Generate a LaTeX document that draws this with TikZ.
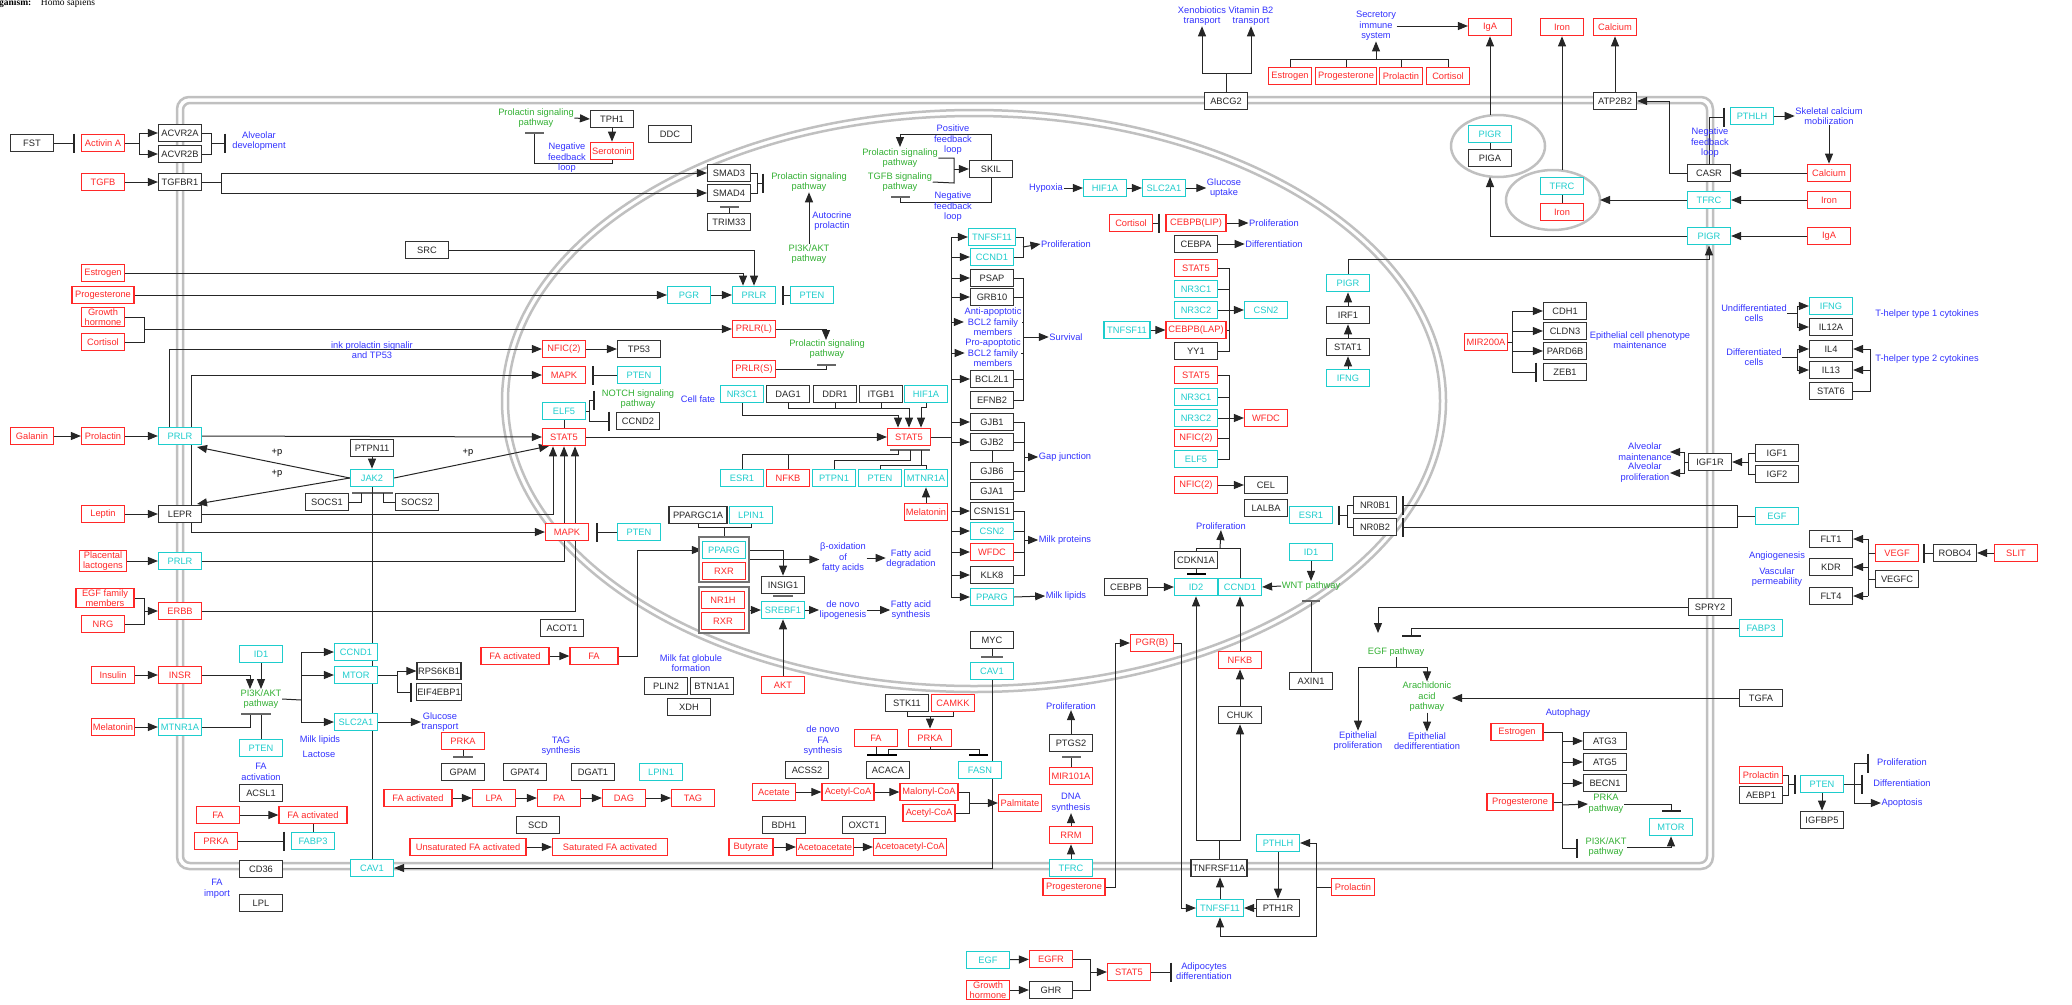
\documentclass[tikz,border=0pt]{standalone}
\usepackage{fontspec}
\setmainfont{Liberation Sans}
\newfontfamily\orgfont{Liberation Serif}
\usetikzlibrary{arrows.meta}
\definecolor{redc}{RGB}{255,40,40}
\definecolor{cyanc}{RGB}{30,205,205}
\definecolor{bluec}{RGB}{50,50,255}
\definecolor{greenc}{RGB}{50,175,50}
\definecolor{memc}{RGB}{192,192,192}
\newcommand\dfont{\fontsize{9.3}{10.5}\selectfont}
\pgfdeclarelayer{memlayer}
\pgfdeclarelayer{linelayer}
\pgfsetlayers{memlayer,linelayer,main}
\begin{document}
\begin{tikzpicture}[x=1pt,y=-1pt,
 every node/.style={font=\dfont},
 box/.style={draw, fill=white, line width=1.2pt, minimum width=43pt, minimum height=17.5pt, inner sep=1pt, align=center},
 gb/.style={box, draw=black!80, text=black!85},
 gc/.style={box, draw=cyanc, text=cyanc},
 gr/.style={box, draw=redc, text=redc},
 lb/.style={text=bluec, align=center, inner sep=0.5pt},
 lg/.style={text=greenc, align=center, inner sep=0.5pt},
 cplx/.style={draw=black!55, line width=1.5pt, fill=white, inner sep=0},
 ln/.style={draw=black!85, line width=1pt},
 ar/.style={draw=black!85, line width=1pt, -{Triangle[length=10pt,width=8pt]}},
 inh/.style={draw=black!85, line width=1pt, -{Bar[width=19pt,line width=2pt]}},
 gbar/.style={draw=black!60, line width=2.8pt},
 bbar/.style={draw=black, line width=2pt},
 memb/.style={draw=memc, line width=2.5pt}]
\useasboundingbox (0,0) rectangle (2072,1004);
\begin{pgfonlayer}{memlayer}
\draw[memb, rounded corners=12pt] (177,97) rectangle (1713,869);
\draw[memb, rounded corners=7pt] (183,103) rectangle (1707,863);
\draw[memb] (974,401) ellipse [x radius=472pt, y radius=291pt];
\draw[memb] (974,401) ellipse [x radius=466pt, y radius=285pt];
\draw[memb] (1498,146) ellipse [x radius=47pt, y radius=31pt];
\draw[memb] (1553,200) ellipse [x radius=47pt, y radius=30pt];
\end{pgfonlayer}
\node[anchor=base west, inner sep=0, font=\orgfont\fontsize{9.5}{11}\selectfont] (org) at (-1,5) {\textbf{ganism:}\quad Homo sapiens};
\coordinate (vx) at (951,0);
\coordinate (v2) at (1023,0);
\coordinate (v3) at (1229,0);
% ---------- left outside
\node[gb] (fst) at (32,143) {FST};
\node[gr] (actA) at (103,143) {Activin A};
\node[gb] (acvr2a) at (180,133) {ACVR2A};
\node[gb] (acvr2b) at (180,154) {ACVR2B};
\node[lb] (lAlv) at (259,141) {Alveolar\\development};
\node[gr] (tgfb) at (103,182) {TGFB};
\node[gb] (tgfbr1) at (180,182) {TGFBR1};
\node[gr] (estL) at (103,273) {Estrogen};
\node[gr, minimum width=62pt] (progL) at (103,295) {Progesterone};
\node[gr] (ghL) at (103,317) {Growth\\hormone};
\node[gr] (cortL) at (103,342) {Cortisol};
\node[gr] (galanin) at (32,436) {Galanin};
\node[gr] (prlL) at (103,436) {Prolactin};
\node[gc] (prlr1) at (180,436) {PRLR};
\node[gr] (leptin) at (103,514) {Leptin};
\node[gb] (lepr) at (180,514) {LEPR};
\node[gr, minimum width=47pt] (placL) at (103,561) {Placental\\lactogens};
\node[gc] (prlr2) at (180,561) {PRLR};
\node[gr, minimum width=58pt] (egffam) at (105,598) {EGF family\\members};
\node[gr] (nrg) at (103,624) {NRG};
\node[gr] (erbb) at (180,611) {ERBB};
\node[gr] (insulin) at (113,675) {Insulin};
\node[gr] (insr) at (180,675) {INSR};
\node[gr] (melL) at (113,727) {Melatonin};
\node[gc] (mtnr1aL) at (180,727) {MTNR1A};
\node[gb] (cd36) at (261,869) {CD36};
\node[lb] (lFAimp) at (217,889) {FA\\import};
\node[gb] (lpl) at (261,903) {LPL};
\node[gc] (cav1m) at (372,868) {CAV1};
% ---------- cytoplasm left
\node[gb] (src) at (427,250) {SRC};
\node[lg] (lProl1) at (536,118) {Prolactin signaling\\pathway};
\node[gb] (tph1) at (612,119) {TPH1};
\node[gb] (ddc) at (670,134) {DDC};
\node[gr] (sero) at (612,151) {Serotonin};
\node[lb] (lNeg1) at (567,158) {Negative\\feedback\\loop};
\node[gb] (smad3) at (729,173) {SMAD3};
\node[gb] (smad4) at (729,193) {SMAD4};
\node[gb] (trim33) at (729,222) {TRIM33};
\node[lg] (lProl2) at (809,182) {Prolactin signaling\\pathway};
\node[lb] (lAuto) at (832,221) {Autocrine\\prolactin};
\node[lg] (lPI3K1) at (809,254) {PI3K/AKT\\pathway};
\node[gc] (pgr) at (689,295) {PGR};
\node[gc] (prlrC) at (754,295) {PRLR};
\node[gc] (ptenC) at (812,295) {PTEN};
\node[gr] (prlrL) at (754,329) {PRLR(L)};
\node[lg] (lProl3) at (827,349) {Prolactin signaling\\pathway};
\node[gr] (prlrS) at (754,369) {PRLR(S)};
\node[lb] (lLink) at (372,350) {ink prolactin signalir\\and TP53};
\node[gr] (nfic) at (564,349) {NFIC(2)};
\node[gb] (tp53) at (639,349) {TP53};
\node[gr] (mapk1) at (564,375) {MAPK};
\node[gc] (pten1) at (639,375) {PTEN};
\node[gc] (elf5) at (564,411) {ELF5};
\node[lg] (lNotch) at (638,399) {NOTCH signaling\\pathway};
\node[gb] (ccnd2) at (638,421) {CCND2};
\node[gr] (stat5c) at (564,437) {STAT5};
\node[gb] (ptpn11) at (372,448) {PTPN11};
\node[gc] (jak2) at (372,478) {JAK2};
\node[gb] (socs1) at (327,502) {SOCS1};
\node[gb] (socs2) at (417,502) {SOCS2};
\node (p1) at (277,453) {+p};
\node (p2) at (277,474) {+p};
\node (p3) at (468,453) {+p};
\node[gr] (mapk2) at (567,532) {MAPK};
\node[gc] (pten2) at (639,532) {PTEN};
\node[gb] (acot1) at (562,628) {ACOT1};
\node[gr, minimum width=68pt] (faAct1) at (515,656) {FA activated};
\node[gr, minimum width=48pt] (fa1) at (594,656) {FA};
\node[lb] (lMilkfat) at (691,663) {Milk fat globule\\formation};
\node[gb] (plin2) at (666,686) {PLIN2};
\node[gb] (btn1a1) at (712,686) {BTN1A1};
\node[gb] (xdh) at (689,707) {XDH};
\node[gr] (akt) at (783,685) {AKT};
\node[gc] (id1L) at (261,654) {ID1};
\node[lg] (lPI3K2) at (261,699) {PI3K/AKT\\pathway};
\node[gc] (ptenL) at (261,748) {PTEN};
\node[gc] (ccnd1L) at (356,652) {CCND1};
\node[gc] (mtorL) at (356,675) {MTOR};
\node[gc] (slc2a1L) at (356,722) {SLC2A1};
\node[gb, minimum width=44pt] (rps6kb1) at (439,671) {RPS6KB1};
\node[gb, minimum width=44pt] (eif4ebp1) at (439,692) {EIF4EBP1};
\node[lb] (lGluT) at (440,722) {Glucose\\transport};
\node[lb] (lMilkLip) at (320,740) {Milk lipids};
\node[lb] (lLact) at (319,754) {Lactose};
\node[gr] (prka1) at (463,741) {PRKA};
\node[gb] (gpam) at (463,772) {GPAM};
\node[lb] (lFAact) at (261,772) {FA\\activation};
\node[gb] (acsl1) at (261,793) {ACSL1};
\node[gr] (fa2) at (218,815) {FA};
\node[gr, minimum width=68pt] (faAct2) at (313,815) {FA activated};
\node[gc] (fabp3L) at (313,841) {FABP3};
\node[gr] (prka2) at (216,841) {PRKA};
\node[lb] (lTAG) at (561,746) {TAG\\synthesis};
\node[gb] (gpat4) at (525,772) {GPAT4};
\node[gb] (dgat1) at (593,772) {DGAT1};
\node[gc] (lpin1b) at (661,772) {LPIN1};
\node[gr, minimum width=68pt] (faAct3) at (418,798) {FA activated};
\node[gr] (lpa) at (494,798) {LPA};
\node[gr] (pa) at (559,798) {PA};
\node[gr] (dag) at (624,798) {DAG};
\node[gr] (tag) at (693,798) {TAG};
\node[gb] (scd) at (538,825) {SCD};
\node[gr, minimum width=116pt] (unsat) at (468,847) {Unsaturated FA activated};
\node[gr, minimum width=115pt] (sat) at (610,847) {Saturated FA activated};
\node[lb] (lDeNovo) at (823,741) {de novo\\FA\\synthesis};
\node[gb] (stk11) at (907,703) {STK11};
\node[gr] (camkk) at (953,703) {CAMKK};
\node[gr] (fa3) at (876,738) {FA};
\node[gr] (prka3) at (930,738) {PRKA};
\node[gb] (acss2) at (807,770) {ACSS2};
\node[gb] (acaca) at (888,770) {ACACA};
\node[gc] (fasn) at (980,770) {FASN};
\node[gr] (acetate) at (774,792) {Acetate};
\node[gr, minimum width=52pt] (acoa1) at (848,792) {Acetyl-CoA};
\node[gr, minimum width=58pt] (malonyl) at (929,792) {Malonyl-CoA};
\node[gr, minimum width=52pt] (acoa2) at (929,813) {Acetyl-CoA};
\node[gr] (palm) at (1020,803) {Palmitate};
\node[gb] (bdh1) at (784,825) {BDH1};
\node[gb] (oxct1) at (864,825) {OXCT1};
\node[gr, minimum width=44pt] (butyrate) at (751,847) {Butyrate};
\node[gr, minimum width=57pt] (acac) at (825,847) {Acetoacetate};
\node[gr, minimum width=73pt] (acacoa) at (910,847) {Acetoacetyl-CoA};
\node[gb] (myc) at (992,640) {MYC};
\node[gc] (cav1) at (992,671) {CAV1};
% ---------- nucleus
\node[gb, minimum width=58pt] (ppargc1a) at (698,515) {PPARGC1A};
\node[gc] (lpin1a) at (751,515) {LPIN1};
\node[cplx, minimum width=50pt, minimum height=45pt] (cx1) at (724,559.5) {};
\node[gc] (pparg) at (724,550) {PPARG};
\node[gr] (rxr1) at (724,571) {RXR};
\node[cplx, minimum width=50pt, minimum height=46pt] (cx2) at (724,610) {};
\node[gr] (nr1h) at (723,600) {NR1H};
\node[gr] (rxr2) at (723,621) {RXR};
\node[lb] (lBox) at (843,558) {β-oxidation\\of\\fatty acids};
\node[lb] (lFAdeg) at (911,559) {Fatty acid\\degradation};
\node[gb] (insig1) at (783,585) {INSIG1};
\node[gc] (srebf1) at (783,610) {SREBF1};
\node[lb] (lLipo) at (843,610) {de novo\\lipogenesis};
\node[lb] (lFAsyn) at (911,610) {Fatty acid\\synthesis};
\node[lb] (lCellFate) at (698,399) {Cell fate};
\node[gc] (nr3c1a) at (742,394) {NR3C1};
\node[gb] (dag1) at (788,394) {DAG1};
\node[gb] (ddr1) at (835,394) {DDR1};
\node[gb] (itgb1) at (881,394) {ITGB1};
\node[gc] (hif1aN) at (926,394) {HIF1A};
\node[gr] (stat5n) at (909,437) {STAT5};
\node[gc] (esr1a) at (742,478) {ESR1};
\node[gr] (nfkbA) at (788,478) {NFKB};
\node[gc] (ptpn1) at (834,478) {PTPN1};
\node[gc] (ptenN) at (880,478) {PTEN};
\node[gc] (mtnr1aN) at (926,478) {MTNR1A};
\node[gr] (melN) at (926,512) {Melatonin};
\node[lb] (lPos) at (953,140) {Positive\\feedback\\loop};
\node[lg] (lProl4) at (900,158) {Prolactin signaling\\pathway};
\node[lg] (lTGFB) at (900,182) {TGFB signaling\\pathway};
\node[lb] (lNeg2) at (953,207) {Negative\\feedback\\loop};
\node[gb] (skil) at (991,169) {SKIL};
\node[gc, minimum width=47pt] (tnfsf11a) at (992,237) {TNFSF11};
\node[gc] (ccnd1a) at (992,257) {CCND1};
\node[gb] (psap) at (992,278) {PSAP};
\node[gb] (grb10) at (992,297) {GRB10};
\node[lb] (lAnti) at (993,322) {Anti-apoptotic\\BCL2 family\\members};
\node[lb] (lPro) at (993,353) {Pro-apoptotic\\BCL2 family\\members};
\node[gb] (bcl2l1) at (992,379) {BCL2L1};
\node[gb] (efnb2) at (992,400) {EFNB2};
\node[gb] (gjb1) at (992,422) {GJB1};
\node[gb] (gjb2) at (992,442) {GJB2};
\node[gb] (gjb6) at (992,471) {GJB6};
\node[gb] (gja1) at (992,491) {GJA1};
\node[gb] (csn1s1) at (992,511) {CSN1S1};
\node[gc] (csn2a) at (992,531) {CSN2};
\node[gr] (wfdcA) at (992,552) {WFDC};
\node[gb] (klk8) at (992,575) {KLK8};
\node[gc] (ppargN) at (992,597) {PPARG};
\node[lb] (lProlif1) at (1066,244) {Proliferation};
\node[lb] (lSurv) at (1066,337) {Survival};
\node[lb] (lGap) at (1065,457) {Gap junction};
\node[lb] (lMilkProt) at (1065,540) {Milk proteins};
\node[lb] (lMilkLip2) at (1066,596) {Milk lipids};
\node[lb] (lHyp) at (1046,188) {Hypoxia};
\node[gc] (hif1aC) at (1105,188) {HIF1A};
\node[gc] (slc2a1C) at (1164,188) {SLC2A1};
\node[lb] (lGluUp) at (1224,188) {Glucose\\uptake};
\node[gr] (cortN) at (1131,223) {Cortisol};
\node[gr, minimum width=60pt] (cebpbLip) at (1196,223) {CEBPB(LIP)};
\node[lb] (lProlif2) at (1274,223) {Proliferation};
\node[gb] (cebpa) at (1196,244) {CEBPA};
\node[lb] (lDiff1) at (1274,244) {Differentiation};
\node[gr] (stat5a) at (1196,268) {STAT5};
\node[gc] (nr3c1b) at (1196,289) {NR3C1};
\node[gc] (nr3c2b) at (1196,310) {NR3C2};
\node[gc] (csn2b) at (1266,310) {CSN2};
\node[gc, minimum width=46pt] (tnfsf11b) at (1127,330) {TNFSF11};
\node[gr, minimum width=60pt] (cebpbLap) at (1196,330) {CEBPB(LAP)};
\node[gb] (yy1) at (1196,351) {YY1};
\node[gr] (stat5b) at (1196,375) {STAT5};
\node[gc] (nr3c1c) at (1196,397) {NR3C1};
\node[gc] (nr3c2c) at (1196,418) {NR3C2};
\node[gr] (nfic2a) at (1196,438) {NFIC(2)};
\node[gc] (elf5b) at (1196,459) {ELF5};
\node[gr] (wfdcB) at (1266,418) {WFDC};
\node[gr] (nfic2b) at (1196,485) {NFIC(2)};
\node[gb] (cel) at (1266,485) {CEL};
\node[gb] (lalba) at (1266,508) {LALBA};
\node[gc] (esr1b) at (1311,515) {ESR1};
\node[gb] (nr0b1) at (1375,505) {NR0B1};
\node[gb] (nr0b2) at (1375,527) {NR0B2};
\node[lb] (lProlif3) at (1221,526) {Proliferation};
\node[gb] (cdkn1a) at (1196,560) {CDKN1A};
\node[gc] (id2) at (1196,587) {ID2};
\node[gc] (ccnd1b) at (1240,587) {CCND1};
\node[gb] (cebpb) at (1126,587) {CEBPB};
\node[gc] (id1N) at (1311,552) {ID1};
\node[lg] (lWnt) at (1311,586) {WNT pathway};
\node[gb] (axin1) at (1311,681) {AXIN1};
\node[gr] (pgrb) at (1152,643) {PGR(B)};
\node[gr] (nfkbB) at (1240,660) {NFKB};
\node[gb] (chuk) at (1240,715) {CHUK};
\node[gc] (pigrN) at (1348,283) {PIGR};
\node[gb] (irf1) at (1348,315) {IRF1};
\node[gb] (stat1) at (1348,347) {STAT1};
\node[gc] (ifngN) at (1348,378) {IFNG};
% ---------- lower middle
\node[lb] (lProlif5) at (1071,706) {Proliferation};
\node[gb] (ptgs2) at (1071,743) {PTGS2};
\node[gr] (mir101a) at (1071,776) {MIR101A};
\node[lb] (lDNA) at (1071,803) {DNA\\synthesis};
\node[gr] (rrm) at (1071,835) {RRM};
\node[gc] (tfrcB) at (1071,868) {TFRC};
\node[gr, minimum width=62pt] (progB) at (1074,887) {Progesterone};
\node[gb, minimum width=56pt] (tnfrsf11a) at (1219,868) {TNFRSF11A};
\node[gc, minimum width=47pt] (tnfsf11c) at (1220,908) {TNFSF11};
\node[gb] (pth1r) at (1278,908) {PTH1R};
\node[gc] (pthlhB) at (1278,843) {PTHLH};
\node[gr] (prlB) at (1353,887) {Prolactin};
\node[gc] (egfB) at (988,960) {EGF};
\node[gr] (ghB) at (988,990) {Growth\\hormone};
\node[gr] (egfr) at (1051,959) {EGFR};
\node[gb] (ghr) at (1051,990) {GHR};
\node[gr] (stat5d) at (1129,972) {STAT5};
\node[lb] (lAdipo) at (1204,971) {Adipocytes\\differentiation};
% ---------- top
\node[lb] (lXeno) at (1202,16) {Xenobiotics\\transport};
\node[lb] (lVitB2) at (1251,16) {Vitamin B2\\transport};
\node[gb] (abcg2) at (1226,101) {ABCG2};
\node[lb] (lSecr) at (1376,26) {Secretory\\immune\\system};
\node[gr] (igaT) at (1490,27) {IgA};
\node[gr] (estT) at (1290,76) {Estrogen};
\node[gr, minimum width=61pt] (progT) at (1346,76) {Progesterone};
\node[gr] (prlT) at (1401,76) {Prolactin};
\node[gr] (cortT) at (1448,76) {Cortisol};
\node[gr] (ironT) at (1562,27) {Iron};
\node[gr] (calT) at (1615,27) {Calcium};
\node[gb] (atp2b2) at (1615,101) {ATP2B2};
\node[gc] (pigrA) at (1490,134) {PIGR};
\node[gb] (piga) at (1490,158) {PIGA};
\node[gc] (tfrcA) at (1562,186) {TFRC};
\node[gr] (ironA) at (1562,212) {Iron};
\node[gc] (pthlhR) at (1752,116) {PTHLH};
\node[lb] (lSkel) at (1829,116) {Skeletal calcium\\mobilization};
\node[gb] (casr) at (1709,173) {CASR};
\node[gc] (tfrcM) at (1709,200) {TFRC};
\node[gc] (pigrM) at (1709,236) {PIGR};
\node[gr] (calR) at (1829,173) {Calcium};
\node[gr] (ironR) at (1829,200) {Iron};
\node[gr] (igaR) at (1829,236) {IgA};
\node[lb] (lNeg3) at (1710,143) {Negative\\feedback\\loop};
% ---------- right
\node[lb] (lEpiPh) at (1640,340) {Epithelial cell phenotype\\maintenance};
\node[gr] (mir200a) at (1486,342) {MIR200A};
\node[gb] (cdh1) at (1565,311) {CDH1};
\node[gb] (cldn3) at (1565,331) {CLDN3};
\node[gb] (pard6b) at (1565,351) {PARD6B};
\node[gb] (zeb1) at (1565,372) {ZEB1};
\node[lb] (lUndiff) at (1754,313) {Undifferentiated\\cells};
\node[gc] (ifngR) at (1831,306) {IFNG};
\node[gb] (il12a) at (1831,327) {IL12A};
\node[lb] (lTh1) at (1927,314) {T-helper type 1 cytokines};
\node[lb] (lDiffC) at (1754,357) {Differentiated\\cells};
\node[gb] (il4) at (1831,349) {IL4};
\node[gb] (il13) at (1831,370) {IL13};
\node[gb] (stat6) at (1831,391) {STAT6};
\node[lb] (lTh2) at (1927,359) {T-helper type 2 cytokines};
\node[gb] (igf1r) at (1710,462) {IGF1R};
\node[gb] (igf1) at (1777,453) {IGF1};
\node[gb] (igf2) at (1777,474) {IGF2};
\node[lb] (lAlvM) at (1645,451.5) {Alveolar\\maintenance};
\node[lb] (lAlvP) at (1645,472.5) {Alveolar\\proliferation};
\node[gc] (egfM) at (1777,516) {EGF};
\node[gb] (flt1) at (1831,539) {FLT1};
\node[gb] (kdr) at (1831,567) {KDR};
\node[gb] (flt4) at (1831,596) {FLT4};
\node[gr] (vegf) at (1897,553) {VEGF};
\node[gb] (vegfc) at (1897,579) {VEGFC};
\node[gb] (robo4) at (1955,553) {ROBO4};
\node[gr] (slit) at (2016,553) {SLIT};
\node[lb] (lAngio) at (1777,556) {Angiogenesis};
\node[lb] (lVasc) at (1777,577) {Vascular\\permeability};
\node[gb] (spry2) at (1710,607) {SPRY2};
\node[gc] (fabp3M) at (1761,628) {FABP3};
\node[lg] (lEGFp) at (1396,652) {EGF pathway};
\node[lg] (lArach) at (1427,697) {Arachidonic\\acid\\pathway};
\node[lb] (lEpiProl) at (1358,741) {Epithelial\\proliferation};
\node[lb] (lEpiDed) at (1427,741) {Epithelial\\dedifferentiation};
\node[gb] (tgfa) at (1761,698) {TGFA};
\node[lb] (lAutoph) at (1568,713) {Autophagy};
\node[gr, minimum width=52pt] (estR) at (1517,732) {Estrogen};
\node[gr, minimum width=66pt] (progR) at (1520,802) {Progesterone};
\node[gb] (atg3) at (1605,741) {ATG3};
\node[gb] (atg5) at (1605,762) {ATG5};
\node[gb] (becn1) at (1605,783) {BECN1};
\node[lg] (lPRKAp) at (1606,804) {PRKA\\pathway};
\node[lg] (lPI3K3) at (1606,847) {PI3K/AKT\\pathway};
\node[gc] (mtorR) at (1671,827) {MTOR};
\node[gr] (prlR2) at (1761,775) {Prolactin};
\node[gb] (aebp1) at (1761,795) {AEBP1};
\node[gc] (ptenR) at (1822,784) {PTEN};
\node[gb] (igfbp5) at (1822,820) {IGFBP5};
\node[lb] (lProlif4) at (1902,762) {Proliferation};
\node[lb] (lDiff2) at (1902,783) {Differentiation};
\node[lb] (lApop) at (1902,803) {Apoptosis};
% ================= connectors
\begin{pgfonlayer}{linelayer}
\draw[inh] (fst.east) -- (75,143);
\draw[ln] (actA.east) -- (139,143);
\draw[ar] (139,143) |- (acvr2a.west);
\draw[ar] (139,143) |- (acvr2b.west);
\draw[ln] (acvr2a.east) -| (211,154) -- (acvr2b.east);
\draw[inh] (211,143) -- (226,143);
\draw[ar] (tgfb) -- (tgfbr1);
\draw[ln] (tgfbr1.east) -- (221,182);
\draw[ar] (221,182) |- (smad3.west);
\draw[ar] (221,182) |- (smad4.west);
\draw[ln] (smad3.east) -| (757,193) -- (smad4.east);
\draw[inh] (757,183) -- (764,183);
\draw[ln] (trim33.north) -- (729,207);
\draw[gbar] (720,207) -- (739,207);
\draw[ar] (lPI3K1.north) -- (lProl2.south);
\draw[ar] (lProl1.east) -- (tph1.west);
\draw[ar] (tph1) -- (sero);
\draw[ln] (sero.south) -- (612,163) -| (534,133);
\draw[gbar] (525,133) -- (544,133);
\draw[ar] (estL.east) -| ([xshift=-11pt]prlrC.north);
\draw[ar] (src.east) -| (prlrC.north);
\draw[ar] (progL.east) -- (pgr.west);
\draw[ar] (pgr) -- (prlrC);
\draw[inh] (ptenC.west) -- (782,295);
\draw[ln] (ghL.east) -| (144,342) -- (cortL.east);
\draw[ar] (144,329) -- (prlrL.west);
\draw[ar] (prlrL.east) -| (826,340);
\draw[ln] (prlrS.east) -| (826,365);
\draw[gbar] (817,365) -- (836,365);
\draw[ar] ([xshift=-11pt]prlr1.north) |- (nfic.west);
\draw[ar] (nfic) -- (tp53);
\draw[ar] ([xshift=11pt]lepr.north) |- (mapk1.west);
\draw[ar] ([xshift=11pt]lepr.south) |- (mapk2.west);
\draw[ar] (prlr1.east) -- (stat5c.west);
\draw[ar] (lepr.east) -| ([xshift=-11pt]stat5c.south);
\draw[ar] (prlr2.east) -| (stat5c.south);
\draw[ar] (erbb.east) -| ([xshift=11pt]stat5c.south);
\draw[ar] (galanin) -- (prlL);
\draw[ar] (prlL) -- (prlr1);
\draw[ar] (leptin) -- (lepr);
\draw[ar] (placL) -- (prlr2);
\draw[ln] (egffam.east) -| (144,624) -- (nrg.east);
\draw[ar] (144,611) -- (erbb.west);
\draw[ar] (jak2.west) -- (197,447);
\draw[ar] (jak2.west) -- (197,504);
\draw[ar] (jak2.east) -- (549,446);
\draw[ar] (ptpn11) -- (jak2);
\draw[gbar] (352,493) -- (393,493);
\draw[ln] (socs1.east) -| (361,493);
\draw[ln] (socs2.west) -| (383,493);
\draw[ln] (jak2.south) -- (cav1m.north);
\draw[inh] (pten1.west) -- (592,375);
\draw[inh] (pten2.west) -- (596,532);
\draw[ln] (elf5) -- (stat5c);
\draw[ln] (elf5.east) -- (589,411);
\draw[inh] (589,411) |- (595,400);
\draw[inh] (589,411) |- (610,421);
\draw[ar] (stat5c.east) -- (stat5n.west);
\draw[ar] (nr3c1a.south) |- (898,415) -- ([xshift=-11pt]stat5n.north);
\draw[ar] (dag1.south) |- (909,408) -- (stat5n.north);
\draw[ln] (ddr1.south) -- (835,408);
\draw[ln] (itgb1.south) -- (881,408);
\draw[ar] (hif1aN.south) |- (921,407) -- ([xshift=12pt]stat5n.north);
\draw[gbar] (890,450) -- (930,450);
\draw[ln] (esr1a.north) |- (898,454) -- (898,450);
\draw[ln] (nfkbA.north) -- (788,454);
\draw[ln] (ptpn1.north) |- (910,460) -- (910,450);
\draw[ln] (ptenN.north) |- (926,465);
\draw[ln] (mtnr1aN.north) -- (926,465);
\draw[ln] (921,465) -- (921,450);
\draw[ar] (melN) -- (mtnr1aN);
\draw[ln] (stat5n.east) -- (951,437);
\draw[ln] (951,237) -- (951,597);
\foreach \n in {tnfsf11a,ccnd1a,psap,grb10,bcl2l1,gjb1,gjb2,csn1s1,csn2a,wfdcA,klk8,ppargN}
  \draw[ar] (\n.west -| vx) -- (\n.west);
\draw[ar] (lAnti.west -| vx) -- (lAnti.west);
\draw[ar] (lPro.west -| vx) -- (lPro.west);
\draw[ln] (gjb2) -- (gjb6);
\draw[ln] (tnfsf11a.east) -| (1023,257) -- (ccnd1a.east);
\draw[ar] (1023,247) -- (lProlif1.west);
\draw[ln] (psap.east) -| (1023,400) -- (efnb2.east);
\foreach \n in {grb10,bcl2l1,lAnti,lPro} \draw[ln] (\n.east) -- (\n.east -| v2);
\draw[ar] (1023,337) -- (lSurv.west);
\draw[ln] (gjb1.east) -| (1024,491) -- (gja1.east);
\draw[ln] (gjb2.east) -- (1024,442);
\draw[ln] (gjb6.east) -- (1024,471);
\draw[ar] (1024,457) -- (lGap.west);
\draw[ln] (csn1s1.east) -| (1024,575) -- (klk8.east);
\draw[ln] (csn2a.east) -- (1024,531);
\draw[ln] (wfdcA.east) -- (1024,552);
\draw[ar] (1024,540) -- (lMilkProt.west);
\draw[ar] (ppargN.east) -- (lMilkLip2.west);
\draw[ar] (skil.north) |- (900,134) -- (900,147);
\draw[ln] (lProl4.east) -| (954,183) -- (lTGFB.east);
\draw[ar] (954,169) -- (skil.west);
\draw[ln] (skil.south) |- (900,202) -- (900,197);
\draw[gbar] (891,197) -- (910,197);
\draw[ar] (lHyp) -- (hif1aC);
\draw[ar] (hif1aC) -- (slc2a1C);
\draw[ar] (slc2a1C) -- (lGluUp);
\draw[inh] (cortN.east) -- (1160,223);
\draw[ar] (cebpbLip) -- (lProlif2);
\draw[ar] (cebpa) -- (lDiff1);
\draw[ln] (stat5a.east) -| (1229,351) -- (yy1.east);
\foreach \n in {nr3c1b,cebpbLap} \draw[ln] (\n.east) -- (\n.east -| v3);
\draw[ar] (nr3c2b) -- (csn2b);
\draw[ar] (tnfsf11b) -- (cebpbLap);
\draw[ln] (stat5b.east) -| (1229,459) -- (elf5b.east);
\foreach \n in {nr3c1c,nfic2a} \draw[ln] (\n.east) -- (\n.east -| v3);
\draw[ar] (nr3c2c) -- (wfdcB);
\draw[ar] (nfic2b) -- (cel);
\draw[ln] (nr0b1.west) -| (1347,527) -- (nr0b2.west);
\draw[inh] (1347,515) -- (1338,515);
\draw[ln] (egfM.west) -- (1737,516);
\draw[inh] (1737,516) |- (1402,505);
\draw[inh] (1737,516) |- (1402,527);
\draw[ln] (cdkn1a.north) -- (1196,548) -| (ccnd1b.north);
\draw[ar] (1220,548) -- (lProlif3.south);
\draw[ln] (cdkn1a.south) -- (1196,574);
\draw[bbar] (1187,574) -- (1206,574);
\draw[ar] (cebpb) -- (id2);
\draw[ar] (lWnt.west) -- (ccnd1b.east);
\draw[ar] (id1N) -- (lWnt);
\draw[ln] (axin1.north) -- (1311,601);
\draw[gbar] (1302,601) -- (1320,601);
\draw[ar] (nfkbB) -- (ccnd1b);
\draw[ar] (chuk) -- (nfkbB);
\draw[ln] (tnfrsf11a.north) -- (1219,840);
\draw[ar] (1219,840) -| (id2.south);
\draw[ar] (1219,840) -| (chuk.south);
\draw[ar] (progB.east) -| (1115,643) -- (pgrb.west);
\draw[ar] (pgrb.east) -| (1181,908) -- (tnfsf11c.west);
\draw[ar] (tnfsf11c.north) -- (tnfsf11c.north |- tnfrsf11a.south);
\draw[ar] (pth1r) -- (tnfsf11c);
\draw[ar] (pthlhB) -- (pth1r);
\draw[ln] (prlB.west) -- (1316,887);
\draw[ar] (1316,887) |- (pthlhB.east);
\draw[ar] (1316,887) |- (1220,936) -- (tnfsf11c.south);
\draw[ar] (tfrcB) -- (rrm);
\draw[ar] (rrm) -- (lDNA);
\draw[ln] (mir101a.north) -- (1071,757);
\draw[gbar] (1062,757) -- (1081,757);
\draw[ar] (ptgs2) -- (lProlif5);
\draw[ar] (egfB) -- (egfr);
\draw[ar] (ghB) -- (ghr);
\draw[ln] (egfr.east) -| (1090,990) -- (ghr.east);
\draw[ar] (1090,972) -- (stat5d.west);
\draw[inh] (stat5d.east) -- (1172,972);
\draw[ar] (ifngN) -- (stat1);
\draw[ar] (stat1) -- (irf1);
\draw[ar] (irf1) -- (pigrN);
\draw[ar] (pigrN.north) -- (1348,259) -| (pigrM.south);
\draw[ar] (pigrM.west) -| (1490,177);
\draw[ar] (1490,115) -- (igaT.south);
\draw[ln] (pigrA) -- (piga);
\draw[ln] (tfrcA) -- (ironA);
\draw[ar] (1562,170) -- (ironT.south);
\draw[ar] (tfrcM.west) -- (1600,200);
\draw[ar] (casr.west) -| (1669,101) -- (atp2b2.east);
\draw[ar] (atp2b2) -- (calT);
\draw[ar] (calR) -- (casr);
\draw[ar] (ironR) -- (tfrcM);
\draw[ar] (igaR) -- (pigrM);
\draw[ar] (pthlhR) -- (lSkel);
\draw[ar] (lSkel) -- (calR);
\draw[inh] (casr.north) |- (1725,117);
\draw[ln] (estT.north) |- (1448,59) -- (cortT.north);
\draw[ln] (progT.north) -- (1346,59);
\draw[ln] (prlT.north) -- (1401,59);
\draw[ar] (1376,59) -- (lSecr.south);
\draw[ar] (lSecr.east) -- (lSecr.east -| igaT.west);
\draw[ln] (abcg2.north) -- (1226,73);
\draw[ar] (1226,73) -| (lXeno.south);
\draw[ar] (1226,73) -| (lVitB2.south);
\draw[ln] (mir200a.east) -- (1512,342);
\draw[ln] (1512,311) -- (1512,372);
\draw[ar] (1512,311) -- (cdh1.west);
\draw[ar] (1512,331) -- (cldn3.west);
\draw[ar] (1512,351) -- (pard6b.west);
\draw[inh] (1512,372) -- (1537,372);
\draw[ln] (lUndiff.east) -- (1797,313);
\draw[ar] (1797,313) |- (ifngR.west);
\draw[ar] (1797,313) |- (il12a.west);
\draw[ln] (lDiffC.east) -- (1797,357);
\draw[ar] (1797,357) |- (il4.west);
\draw[ar] (1797,357) |- (il13.west);
\draw[ln] (stat6.east) -| (1870,349);
\draw[ar] (1870,349) -- (il4.east);
\draw[ar] (1870,370) -- (il13.east);
\draw[ln] (igf1.west) -| (1748,474) -- (igf2.west);
\draw[ar] (1748,462) -- (igf1r.east);
\draw[ln] (igf1r.west) -- (1684,462);
\draw[ar] (1684,462) |- (1670,452);
\draw[ar] (1684,462) |- (1670,473);
\draw[ln] (vegf.west) -- (1868,553);
\draw[ln] (vegfc.west) -- (1868,579);
\draw[ln] (1868,539) -- (1868,596);
\draw[ar] (1868,539) -- (flt1.east);
\draw[ar] (1868,567) -- (kdr.east);
\draw[ar] (1868,596) -- (flt4.east);
\draw[inh] (robo4.west) -- (1923,553);
\draw[ar] (slit) -- (robo4);
\draw[ar] (spry2.west) -| (1378,633);
\draw[inh] (fabp3M.west) -| (1411,637);
\draw[ln] (lEGFp.south) -- (1396,667);
\draw[ar] (1396,667) -| (lEpiProl.north);
\draw[ar] (1396,667) -| (lArach.north);
\draw[ar] (lArach.south) -- (lEpiDed.north);
\draw[ar] (tgfa.west) -- (tgfa.west -| lArach.east);
\draw[ln] (estR.east) -| (1562,848);
\draw[ln] (progR.east) -- (1562,802);
\draw[ar] (1562,741) -- (atg3.west);
\draw[ar] (1562,762) -- (atg5.west);
\draw[ar] (1562,783) -- (becn1.west);
\draw[ar] (1562,805) -- (lPRKAp.west);
\draw[inh] (1562,848) -- (1578,848);
\draw[inh] (lPRKAp.east) -| (1671,812);
\draw[ar] (lPI3K3.east) -| (mtorR.south);
\draw[ln] (prlR2.east) -| (1788,795) -- (aebp1.east);
\draw[inh] (1788,784) -- (1796,784);
\draw[ar] (ptenR) -- (igfbp5);
\draw[ln] (ptenR.east) -- (1854,784);
\draw[ln] (1854,763) -- (1854,803);
\draw[inh] (1854,763) -- (1869,763);
\draw[inh] (1854,784) -- (1863,784);
\draw[ar] (1854,803) -- (lApop.west);
\draw[ar] (insulin) -- (insr);
\draw[ar] (melL) -- (mtnr1aL);
\draw[ar] (insr.east) -| (250,689);
\draw[ar] (id1L.south) -- (261,689);
\draw[ln] (mtnr1aL.east) -| (250,714);
\draw[ln] (ptenL.north) -- (261,714);
\draw[gbar] (241,714) -- (271,714);
\draw[ln] (lPI3K2.east) -- (301,700);
\draw[ln] (301,652) -- (301,722);
\draw[ar] (301,652) -- (ccnd1L.west);
\draw[ar] (301,675) -- (mtorL.west);
\draw[ar] (301,722) -- (slc2a1L.west);
\draw[ln] (mtorL.east) -- (397,675);
\draw[ar] (397,675) |- (rps6kb1.west);
\draw[inh] (397,675) |- (412,692);
\draw[ar] (slc2a1L) -- (lGluT);
\draw[ln] (prka1.south) -- (463,757);
\draw[gbar] (453,757) -- (473,757);
\draw[ar] (fa2) -- (faAct2);
\draw[ln] (faAct2) -- (fabp3L);
\draw[inh] (prka2.east) -- (285,841);
\draw[ar] (faAct3) -- (lpa);
\draw[ar] (lpa) -- (pa);
\draw[ar] (pa) -- (dag);
\draw[ar] (dag) -- (tag);
\draw[ar] (unsat) -- (sat);
\draw[ar] (faAct1) -- (fa1);
\draw[ar] (fa1.east) -| (637,550) -- (pparg.west);
\draw[ln] (ppargc1a.south) -- (698,527) -- (751,527) -- (lpin1a.south);
\draw[ln] (724,527) -- (cx1.north);
\draw[ar] (pparg.east) -| (insig1.north);
\draw[ar] (cx1.east) -- (cx1.east -| lBox.west);
\draw[ar] (lBox.east) -- (lBox.east -| lFAdeg.west);
\draw[gbar] (773,596) -- (793,596);
\draw[ar] (cx2.east) -- (srebf1.west);
\draw[ar] (srebf1) -- (lLipo);
\draw[ar] (lLipo) -- (lFAsyn);
\draw[ar] (akt) -- (srebf1);
\draw[ln] (myc.south) -- (992,657);
\draw[gbar] (981,657) -- (1003,657);
\draw[ar] (cav1.south) |- (cav1m.east);
\draw[ln] (stk11.south) |- (953,716) -- (camkk.south);
\draw[ar] (930,716) -- (prka3.north);
\draw[ln] (fa3.south) -- (876,755);
\draw[ln] (prka3.south) -- (930,749);
\draw[ln] (888,749) -- (979,749);
\draw[ln] (888,749) -- (888,755);
\draw[ln] (979,749) -- (979,755);
\draw[bbar] (867,755) -- (897,755);
\draw[bbar] (969,755) -- (988,755);
\draw[ar] (acetate) -- (acoa1);
\draw[ar] (acoa1) -- (malonyl);
\draw[ln] (malonyl.east) -| (969,813) -- (acoa2.east);
\draw[ar] (969,803) -- (palm.west);
\draw[ar] (butyrate) -- (acac);
\draw[ar] (acac) -- (acacoa);
\end{pgfonlayer}
\end{tikzpicture}
\end{document}
